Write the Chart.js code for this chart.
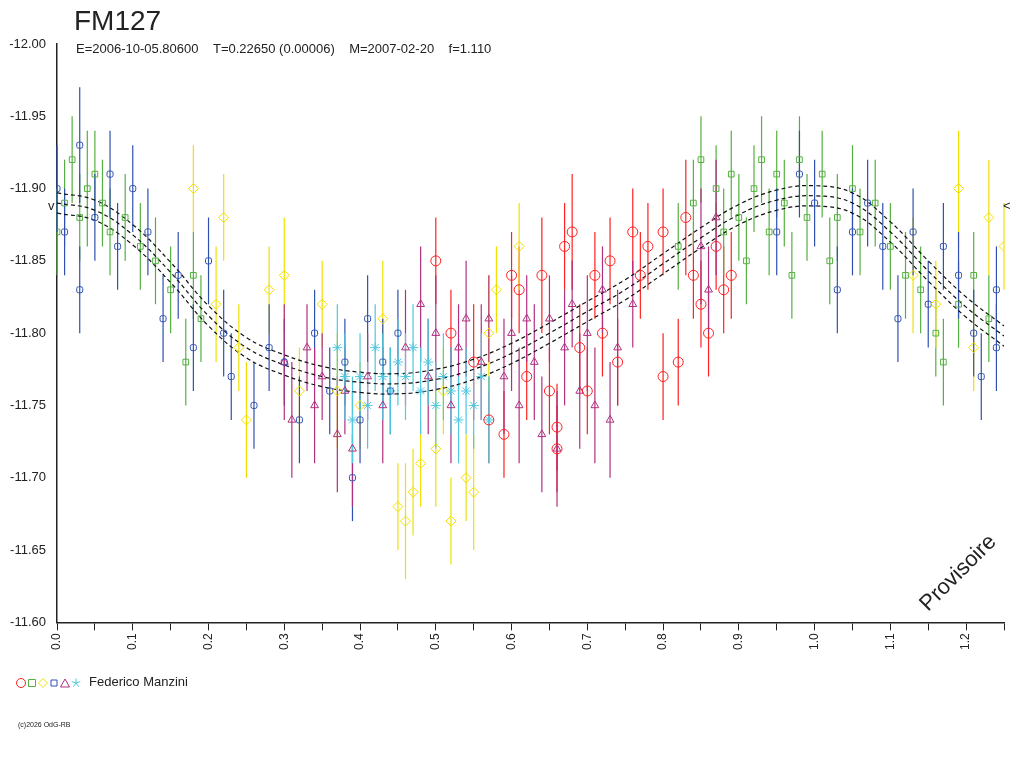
<!DOCTYPE html>
<html>
<head>
<meta charset="utf-8">
<script src="https://cdn.jsdelivr.net/npm/chart.js@4/dist/chart.umd.min.js"></script>
<style>body{margin:0;background:#fff}#wrap{width:1024px;height:768px}</style>
</head>
<body>
<div id="wrap"><canvas id="lc"></canvas></div>
<script>
// observations: [phase, mag, err]
var red = [[0.50,-11.85,0.03],[0.52,-11.80,0.03],[0.55,-11.78,0.04],[0.57,-11.74,0.03],[0.59,-11.73,0.03],[0.61,-11.83,0.03],[0.62,-11.77,0.03],[0.64,-11.84,0.04],[0.65,-11.76,0.03],[0.66,-11.72,0.03],[0.67,-11.86,0.03],[0.68,-11.87,0.04],[0.69,-11.79,0.03],[0.70,-11.76,0.03],[0.71,-11.84,0.03],[0.72,-11.80,0.03],[0.73,-11.85,0.03],[0.74,-11.78,0.03],[0.76,-11.87,0.03],[0.77,-11.84,0.03],[0.78,-11.86,0.03],[0.80,-11.77,0.03],[0.80,-11.87,0.03],[0.82,-11.78,0.03],[0.83,-11.88,0.04],[0.84,-11.84,0.03],[0.85,-11.82,0.03],[0.86,-11.80,0.03],[0.87,-11.86,0.03],[0.88,-11.83,0.03],[0.89,-11.84,0.03],[0.66,-11.735,0.03],[0.60,-11.84,0.03]];
var green = [[0.00,-11.87,0.03],[0.01,-11.89,0.03],[0.02,-11.92,0.03],[0.03,-11.88,0.03],[0.04,-11.90,0.04],[0.05,-11.91,0.03],[0.06,-11.89,0.03],[0.07,-11.87,0.03],[0.09,-11.88,0.03],[0.11,-11.86,0.03],[0.13,-11.85,0.03],[0.15,-11.83,0.03],[0.17,-11.78,0.03],[0.18,-11.84,0.03],[0.19,-11.81,0.03],[0.82,-11.86,0.03],[0.84,-11.89,0.03],[0.85,-11.92,0.03],[0.87,-11.90,0.03],[0.88,-11.87,0.03],[0.89,-11.91,0.03],[0.90,-11.88,0.03],[0.91,-11.85,0.03],[0.92,-11.90,0.03],[0.93,-11.92,0.03],[0.94,-11.87,0.03],[0.95,-11.91,0.03],[0.96,-11.89,0.03],[0.97,-11.84,0.03],[0.98,-11.92,0.03],[0.99,-11.88,0.03],[1.01,-11.91,0.03],[1.02,-11.85,0.03],[1.03,-11.88,0.03],[1.05,-11.90,0.03],[1.06,-11.87,0.03],[1.08,-11.89,0.03],[1.10,-11.86,0.03],[1.12,-11.84,0.03],[1.14,-11.83,0.03],[1.16,-11.80,0.03],[1.17,-11.78,0.03],[1.19,-11.82,0.03],[1.21,-11.84,0.03],[1.23,-11.81,0.03]];
var yellow = [[0.18,-11.90,0.03],[0.21,-11.82,0.04],[0.22,-11.88,0.03],[0.24,-11.79,0.03],[0.25,-11.74,0.04],[0.28,-11.83,0.03],[0.30,-11.84,0.04],[0.32,-11.76,0.03],[0.35,-11.82,0.03],[0.37,-11.76,0.04],[0.40,-11.75,0.03],[0.43,-11.81,0.04],[0.45,-11.68,0.03],[0.46,-11.67,0.04],[0.47,-11.69,0.03],[0.48,-11.71,0.03],[0.50,-11.72,0.04],[0.51,-11.76,0.03],[0.52,-11.67,0.03],[0.54,-11.70,0.03],[0.55,-11.69,0.04],[0.57,-11.80,0.04],[0.58,-11.83,0.03],[0.61,-11.86,0.03],[1.13,-11.84,0.04],[1.16,-11.82,0.03],[1.19,-11.90,0.04],[1.21,-11.79,0.03],[1.23,-11.88,0.04],[1.25,-11.86,0.03]];
var blue = [[0.00,-11.90,0.03],[0.01,-11.87,0.03],[0.03,-11.93,0.04],[0.03,-11.83,0.03],[0.05,-11.88,0.03],[0.07,-11.91,0.03],[0.08,-11.86,0.03],[0.10,-11.90,0.03],[0.12,-11.87,0.03],[0.14,-11.81,0.03],[0.16,-11.84,0.03],[0.18,-11.79,0.03],[0.20,-11.85,0.03],[0.22,-11.80,0.03],[0.23,-11.77,0.03],[0.26,-11.75,0.03],[0.28,-11.79,0.03],[0.30,-11.78,0.03],[0.32,-11.74,0.03],[0.34,-11.80,0.03],[0.36,-11.76,0.03],[0.38,-11.78,0.03],[0.39,-11.70,0.03],[0.40,-11.74,0.03],[0.41,-11.81,0.03],[0.43,-11.78,0.03],[0.44,-11.76,0.03],[0.45,-11.80,0.03],[0.95,-11.87,0.03],[0.98,-11.91,0.03],[1.00,-11.89,0.03],[1.03,-11.83,0.03],[1.05,-11.87,0.03],[1.07,-11.89,0.03],[1.09,-11.86,0.03],[1.11,-11.81,0.03],[1.13,-11.87,0.03],[1.15,-11.82,0.03],[1.17,-11.86,0.03],[1.19,-11.84,0.03],[1.21,-11.80,0.03],[1.22,-11.77,0.03],[1.24,-11.83,0.03],[1.24,-11.79,0.03]];
var purple = [[0.30,-11.78,0.04],[0.31,-11.74,0.04],[0.33,-11.79,0.03],[0.34,-11.75,0.04],[0.35,-11.77,0.03],[0.37,-11.73,0.04],[0.38,-11.76,0.03],[0.39,-11.72,0.04],[0.41,-11.77,0.03],[0.43,-11.75,0.04],[0.46,-11.79,0.04],[0.48,-11.82,0.04],[0.49,-11.77,0.04],[0.50,-11.80,0.04],[0.52,-11.75,0.04],[0.53,-11.79,0.03],[0.54,-11.81,0.04],[0.56,-11.78,0.04],[0.57,-11.81,0.03],[0.59,-11.77,0.04],[0.60,-11.80,0.04],[0.61,-11.75,0.04],[0.62,-11.81,0.03],[0.63,-11.78,0.04],[0.64,-11.73,0.04],[0.65,-11.81,0.03],[0.66,-11.72,0.04],[0.67,-11.79,0.04],[0.68,-11.82,0.03],[0.69,-11.76,0.04],[0.70,-11.80,0.04],[0.71,-11.75,0.04],[0.72,-11.83,0.03],[0.73,-11.74,0.04],[0.74,-11.79,0.04],[0.76,-11.82,0.03],[0.85,-11.86,0.04],[0.86,-11.83,0.03],[0.87,-11.88,0.04]];
var cyan = [[0.37,-11.79,0.03],[0.38,-11.77,0.03],[0.39,-11.74,0.03],[0.40,-11.77,0.03],[0.41,-11.75,0.03],[0.42,-11.79,0.03],[0.43,-11.77,0.03],[0.44,-11.76,0.03],[0.45,-11.78,0.03],[0.46,-11.77,0.03],[0.47,-11.79,0.03],[0.48,-11.76,0.03],[0.49,-11.78,0.03],[0.50,-11.75,0.03],[0.51,-11.77,0.03],[0.52,-11.76,0.03],[0.53,-11.74,0.03],[0.54,-11.76,0.03],[0.55,-11.75,0.03],[0.56,-11.77,0.03],[0.57,-11.74,0.03]];
// model curve with limits
var fit = [[0.00,-11.890],[0.05,-11.885],[0.10,-11.868],[0.15,-11.842],[0.20,-11.812],[0.25,-11.790],[0.30,-11.778],[0.35,-11.770],[0.40,-11.766],[0.45,-11.765],[0.50,-11.768],[0.55,-11.775],[0.60,-11.786],[0.65,-11.800],[0.70,-11.815],[0.75,-11.830],[0.80,-11.848],[0.85,-11.866],[0.90,-11.882],[0.95,-11.892],[1.00,-11.895],[1.05,-11.890],[1.10,-11.870],[1.15,-11.843],[1.20,-11.818],[1.25,-11.798]];

function pts(a){ return a.map(function(p){ return {x:p[0], y:p[1], e:p[2]}; }); }
function band(d){ return fit.map(function(p){ return {x:p[0], y:p[1]+d}; }); }

function series(label, arr, col, style, r){
  return {type:'scatter', label:label, data:pts(arr), pointStyle:style, pointRadius:r,
    borderColor:col, backgroundColor:'rgba(0,0,0,0)', pointBorderWidth:1, errCol:col};
}
function curve(d){
  return {type:'line', data:band(d), borderColor:'#111', borderWidth:1.2, borderDash:[4,3],
    pointRadius:0, tension:0.4, fill:false};
}

var errorBars = {
  id:'errorBars',
  beforeDatasetsDraw:function(chart){
    var ctx = chart.ctx, ys = chart.scales.y;
    chart.data.datasets.forEach(function(ds, i){
      if(!ds.errCol) return;
      var meta = chart.getDatasetMeta(i);
      ctx.save(); ctx.strokeStyle = ds.errCol; ctx.lineWidth = 1.2;
      meta.data.forEach(function(el, j){
        var d = ds.data[j];
        ctx.beginPath();
        ctx.moveTo(el.x, ys.getPixelForValue(d.y - d.e));
        ctx.lineTo(el.x, ys.getPixelForValue(d.y + d.e));
        ctx.stroke();
      });
      ctx.restore();
    });
  }
};

var texts = {
  id:'texts',
  afterDraw:function(chart){
    var ctx = chart.ctx;
    ctx.save();
    ctx.fillStyle = '#222';
    ctx.font = '28px "Liberation Sans", Arial';
    ctx.fillText('FM127', 74, 30);
    ctx.font = '13px "Liberation Sans", Arial';
    ctx.fillText('E=2006-10-05.80600    T=0.22650 (0.00006)    M=2007-02-20    f=1.110', 76, 53);
    ctx.fillText('v', 48, 210);
    ctx.fillText('<', 1003, 210);
    ctx.fillText('Federico Manzini', 89, 686);
    ctx.font = '7px "Liberation Sans", Arial';
    ctx.fillText('(c)2026 OdG-RB', 18, 727);
    // legend glyphs
    var g = [['#ff2020','c'],['#55b040','s'],['#f0e000','d'],['#3050b0','x'],['#b03080','t'],['#50c8e0','*']];
    ctx.lineWidth = 1;
    g.forEach(function(s, k){
      var cx = 21 + k*11, cy = 683;
      ctx.strokeStyle = s[0]; ctx.beginPath();
      if(s[1]=='c') ctx.arc(cx, cy, 4.5, 0, 2*Math.PI);
      if(s[1]=='s') ctx.rect(cx-3.5, cy-3.5, 7, 7);
      if(s[1]=='d'){ ctx.moveTo(cx, cy-4.5); ctx.lineTo(cx+4.5, cy); ctx.lineTo(cx, cy+4.5); ctx.lineTo(cx-4.5, cy); ctx.closePath(); }
      if(s[1]=='x'){ ctx.rect(cx-3, cy-3, 6, 6); }
      if(s[1]=='t'){ ctx.moveTo(cx, cy-4); ctx.lineTo(cx+4.5, cy+4); ctx.lineTo(cx-4.5, cy+4); ctx.closePath(); }
      if(s[1]=='*'){ for(var a=0;a<5;a++){ var t=-Math.PI/2+a*2*Math.PI/5; ctx.moveTo(cx,cy); ctx.lineTo(cx+4.5*Math.cos(t), cy+4.5*Math.sin(t)); } }
      ctx.stroke();
    });
    ctx.fillStyle = '#222';
    ctx.font = '22px "Liberation Sans", Arial';
    ctx.translate(928, 612); ctx.rotate(-Math.PI/4);
    ctx.fillText('Provisoire', 0, 0);
    ctx.restore();
  }
};

new Chart(document.getElementById('lc'), {
  data: {
    datasets: [
      series('red', red, '#ff2020', 'circle', 5),
      series('green', green, '#55b040', 'rect', 4),
      series('yellow', yellow, '#f0e000', 'rectRot', 5),
      series('blue', blue, '#3050b0', 'rectRounded', 3.5),
      series('purple', purple, '#b03080', 'triangle', 4.5),
      series('cyan', cyan, '#50c8e0', 'star', 5),
      curve(-0.007), curve(0), curve(0.007)
    ]
  },
  options: {
    responsive:true, maintainAspectRatio:false, animation:false,
    layout:{padding:{left:0, top:44, right:20, bottom:115}},
    plugins:{legend:{display:false}, tooltip:{enabled:false}},
    scales:{
      x:{type:'linear', min:0, max:1.25,
        grid:{drawOnChartArea:false, color:'#222', tickLength:8, tickColor:'#222'},
        border:{color:'#222', width:1.5},
        ticks:{stepSize:0.05, autoSkip:false, maxRotation:90, minRotation:90, color:'#222',
          font:{size:12, family:'"Liberation Sans", Arial'},
          callback:function(v){ var n=Math.round(v*100); return n%10==0 ? (n/100).toFixed(1) : ''; }}},
      y:{type:'linear', min:-12, max:-11.6, reverse:true,
        grid:{display:false}, border:{color:'#222', width:1.5},
        afterFit:function(s){ s.width = 57; },
        ticks:{stepSize:0.05, color:'#222', font:{size:13, family:'"Liberation Sans", Arial'},
          callback:function(v){ return v.toFixed(2); }}}
    }
  },
  plugins:[errorBars, texts]
});
</script>
</body>
</html>
